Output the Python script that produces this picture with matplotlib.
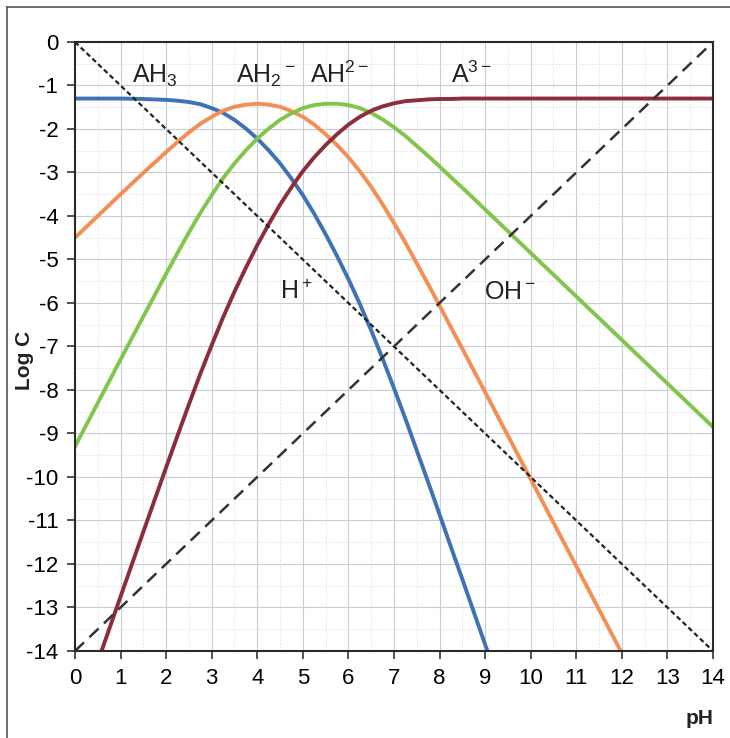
import numpy as np
import matplotlib
matplotlib.use('Agg')
import matplotlib.pyplot as plt
from matplotlib.lines import Line2D

plt.rcParams['font.family'] = ['Liberation Sans', 'DejaVu Sans']
plt.rcParams['mathtext.fontset'] = 'custom'
plt.rcParams['mathtext.rm'] = 'Liberation Sans'
plt.rcParams['mathtext.it'] = 'Liberation Sans'
plt.rcParams['axes.unicode_minus'] = False

# pH points
ph = [0, 0.5, 1, 1.5, 2, 2.25, 2.5, 2.75, 3, 3.25, 3.5, 3.75, 4, 4.25, 4.5,
      4.75, 5, 5.25, 5.5, 5.75, 6, 6.25, 6.5, 6.75, 7, 7.25, 7.5, 7.75, 8,
      8.25, 8.5, 9, 9.5, 10, 10.5, 11, 11.5, 12, 12.5, 13, 13.5, 14]

# AH3 (blue)
ah3 = [-1.30, -1.30, -1.30, -1.31, -1.33, -1.35, -1.38, -1.43, -1.52, -1.63,
       -1.79, -1.99, -2.22, -2.49, -2.79, -3.14, -3.52, -3.95, -4.42, -4.92,
       -5.45, -6.02, -6.63, -7.28, -7.96, -8.66, -9.39, -10.12, -10.86, -11.61,
       -12.35, -13.85, -15.35]
# AH2- (orange)
ah2 = [-4.50, -4.00, -3.50, -3.01, -2.53, -2.30, -2.08, -1.88, -1.72, -1.58,
       -1.49, -1.44, -1.42, -1.44, -1.49, -1.59, -1.72, -1.90, -2.12, -2.37,
       -2.65, -2.97, -3.33, -3.73, -4.16, -4.61, -5.09, -5.57, -6.06, -6.56,
       -7.05, -8.05, -9.05, -10.05, -11.05, -12.05, -13.05, -14.05, -15.05]
# AH2- (green)
ah = [-9.30, -8.30, -7.30, -6.31, -5.33, -4.85, -4.38, -3.93, -3.52, -3.13,
      -2.79, -2.49, -2.22, -1.99, -1.79, -1.64, -1.52, -1.45, -1.42, -1.42,
      -1.45, -1.52, -1.63, -1.78, -1.96, -2.16, -2.39, -2.62, -2.86, -3.11,
      -3.35, -3.85, -4.35, -4.85, -5.35, -5.85, -6.35, -6.85, -7.35, -7.85,
      -8.35, -8.85]
# A3- (dark red)
a3 = [-15.75, -14.25, -12.75, -11.26, -9.78, -9.05, -8.33, -7.63, -6.97, -6.33,
      -5.74, -5.19, -4.67, -4.19, -3.74, -3.34, -2.97, -2.65, -2.37, -2.12,
      -1.90, -1.72, -1.58, -1.48, -1.41, -1.36, -1.34, -1.32, -1.31, -1.31,
      -1.30, -1.30, -1.30, -1.30, -1.30, -1.30, -1.30, -1.30, -1.30, -1.30,
      -1.30, -1.30]
# H+ and OH- lines
ph_w = [0, 14]
log_h = [0, -14]
log_oh = [-14, 0]

fig = plt.figure(figsize=(7.3, 7.38), dpi=100, facecolor='white')
ax = fig.add_axes([0.1027, 0.1179, 0.874, 0.8252])

ax.plot(ph[:len(ah3)], ah3, c='#3f72b4', lw=2.8, solid_joinstyle='round')
ax.plot(ph[:len(ah2)], ah2, c='#f58e54', lw=2.8, solid_joinstyle='round')
ax.plot(ph, ah, c='#80c64a', lw=2.8, solid_joinstyle='round')
ax.plot(ph, a3, c='#8c2c3c', lw=2.8, solid_joinstyle='round')
ax.plot(ph_w, log_h, c='#222222', lw=1.6, ls=(0, (2.2, 1.4)))
ax.plot(ph_w, log_oh, c='#333333', lw=1.8, ls=(0, (5, 3)))

ax.set_xlim(0, 14)
ax.set_ylim(-14, 0)
ax.set_xticks(range(0, 15))
ax.set_yticks(range(-14, 1))
ax.set_xticks(np.arange(0, 14.01, 0.5), minor=True)
ax.set_yticks(np.arange(-14, 0.01, 0.5), minor=True)
ax.grid(which='major', color='#c8ccd4', lw=0.8)
ax.grid(which='minor', color='#dcdfe4', lw=0.6, ls=(0, (2, 2)))
ax.tick_params(which='major', direction='out', length=6, width=1.2,
               labelsize=16, color='#333333', pad=6)
ax.tick_params(which='minor', length=0)
for s in ax.spines.values():
    s.set_color('#2a2a2a')
    s.set_linewidth(1.5)

fs = 18
ax.text(1.75, -0.78, r'AH$_3$', fontsize=fs, ha='center', va='center', color='#222222')
ax.text(4.2, -0.78, r'AH$_2$$^-$', fontsize=fs, ha='center', va='center', color='#222222')
ax.text(5.8, -0.75, r'AH$^{2-}$', fontsize=fs, ha='center', va='center', color='#222222')
ax.text(8.7, -0.75, r'A$^{3-}$', fontsize=fs, ha='center', va='center', color='#222222')
ax.text(4.85, -5.75, r'H$^+$', fontsize=fs, ha='center', va='center', color='#222222')
ax.text(9.55, -5.75, r'OH$^-$', fontsize=fs, ha='center', va='center', color='#222222')

fig.text(0.033, 0.512, 'Log C', rotation=90, fontsize=15, fontweight='bold',
         ha='center', va='center', color='#222222')
fig.text(0.958, 0.027, 'pH', fontsize=15, fontweight='bold',
         ha='center', va='center', color='#222222')

# chart area border
fig.add_artist(Line2D([7 / 730, 7 / 730], [0, 1 - 7 / 738], color='#555555', lw=1.2))
fig.add_artist(Line2D([7 / 730, 1], [1 - 7 / 738, 1 - 7 / 738], color='#555555', lw=1.2))

fig.savefig('out.png', dpi=100, facecolor='white')
